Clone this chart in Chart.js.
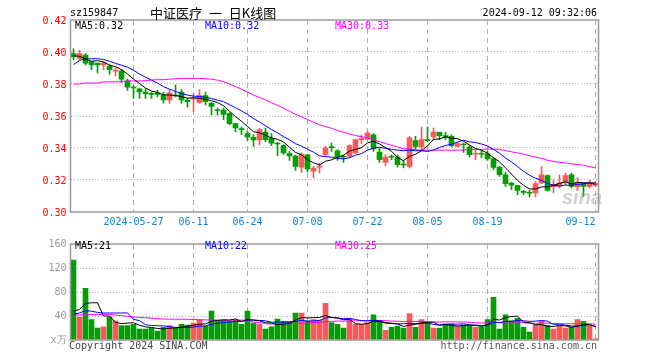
<!DOCTYPE html>
<html><head><meta charset="utf-8">
<script src="https://cdn.jsdelivr.net/npm/chart.js@4/dist/chart.umd.min.js"></script>
<style>
html,body{margin:0;padding:0;background:#fff;}
#wrap{position:relative;width:660px;height:360px;overflow:hidden;font-family:'DejaVu Sans Mono',monospace;font-size:10px;}
.t{position:absolute;white-space:pre;line-height:12px;}
#c1{position:absolute;left:0;top:0;width:660px;height:234px;}
#c2{position:absolute;left:0;top:234px;width:660px;height:126px;}
</style></head><body>
<div id="wrap">
<canvas id="c1" width="660" height="234"></canvas>
<canvas id="c2" width="660" height="126"></canvas>
<div class="t" style="left:70px;top:7px;color:#000;">sz159847</div>
<div class="t" style="left:150px;top:5px;line-height:16px;font-family:'Noto Sans CJK SC',sans-serif;font-size:13px;word-spacing:4px;color:#000;">中证医疗 一 日K线图</div>
<div class="t" style="right:63px;top:7px;color:#000;">2024-09-12 09:32:06</div>
<div class="t" style="left:75px;top:20px;color:#000;">MA5:0.32</div>
<div class="t" style="left:205px;top:20px;color:#0000ff;">MA10:0.32</div>
<div class="t" style="left:335px;top:20px;color:#ff00ff;">MA30:0.33</div>
<div class="t" style="left:75px;top:240px;color:#000;">MA5:21</div>
<div class="t" style="left:205px;top:240px;color:#0000ff;">MA10:22</div>
<div class="t" style="left:335px;top:240px;color:#ff00ff;">MA30:25</div>
<div class="t" style="left:69px;top:340px;color:#444;">Copyright 2024 SINA.COM</div>
<div class="t" style="right:63px;top:340px;color:#555;">http://finance.sina.com.cn</div>
<div class="t" style="left:562px;top:186px;font-family:'Liberation Sans',sans-serif;font-style:italic;font-weight:bold;font-size:20px;line-height:22px;color:rgba(150,150,150,0.45);">sina</div>
</div>
<script>
const dates = ['2024-05-13','2024-05-14','2024-05-15','2024-05-16','2024-05-17','2024-05-20','2024-05-21','2024-05-22','2024-05-23','2024-05-24','2024-05-27','2024-05-28','2024-05-29','2024-05-30','2024-05-31','2024-06-03','2024-06-04','2024-06-05','2024-06-06','2024-06-07','2024-06-11','2024-06-12','2024-06-13','2024-06-14','2024-06-17','2024-06-18','2024-06-19','2024-06-20','2024-06-21','2024-06-24','2024-06-25','2024-06-26','2024-06-27','2024-06-28','2024-07-01','2024-07-02','2024-07-03','2024-07-04','2024-07-05','2024-07-08','2024-07-09','2024-07-10','2024-07-11','2024-07-12','2024-07-15','2024-07-16','2024-07-17','2024-07-18','2024-07-19','2024-07-22','2024-07-23','2024-07-24','2024-07-25','2024-07-26','2024-07-29','2024-07-30','2024-07-31','2024-08-01','2024-08-02','2024-08-05','2024-08-06','2024-08-07','2024-08-08','2024-08-09','2024-08-12','2024-08-13','2024-08-14','2024-08-15','2024-08-16','2024-08-19','2024-08-20','2024-08-21','2024-08-22','2024-08-23','2024-08-26','2024-08-27','2024-08-28','2024-08-29','2024-08-30','2024-09-02','2024-09-03','2024-09-04','2024-09-05','2024-09-06','2024-09-09','2024-09-10','2024-09-11','2024-09-12'];

const openP = [0.399,0.396,0.398,0.394,0.393,0.392,0.391,0.388,0.388,0.382,
 0.378,0.377,0.375,0.374,0.3745,0.373,0.370,0.373,0.375,0.370,
 0.3705,0.3685,0.3727,0.368,0.3637,0.3637,0.3615,0.3552,0.352,0.349,
 0.3467,0.345,0.350,0.346,0.343,0.3415,0.3365,0.335,0.328,0.3358,
 0.3255,0.328,0.3358,0.3406,0.3383,0.3346,0.3348,0.337,0.3452,0.3455,
 0.3483,0.3375,0.331,0.3346,0.3344,0.3298,0.3285,0.3446,0.3406,0.345,
 0.3469,0.3498,0.3475,0.3473,0.341,0.3423,0.3406,0.3361,0.3365,0.3363,
 0.3333,0.3279,0.3233,0.3181,0.3165,0.3127,0.3121,0.3119,0.3181,0.3227,
 0.3156,0.316,0.3181,0.3233,0.3156,0.3177,0.316,0.3168];
const highP = [0.402,0.401,0.399,0.394,0.393,0.394,0.392,0.390,0.389,0.383,
 0.379,0.377,0.377,0.375,0.376,0.375,0.3765,0.3795,0.3765,0.371,
 0.374,0.3765,0.375,0.3685,0.365,0.365,0.362,0.3555,0.3533,0.3504,
 0.3483,0.3525,0.3525,0.349,0.3435,0.342,0.338,0.3355,0.337,0.336,
 0.3285,0.3306,0.341,0.3431,0.339,0.3358,0.342,0.3455,0.348,0.3504,
 0.349,0.340,0.3358,0.3358,0.3358,0.3323,0.3473,0.3473,0.3531,0.353,
 0.3525,0.350,0.3498,0.3483,0.3435,0.3431,0.3415,0.339,0.339,0.338,
 0.334,0.3285,0.3248,0.3185,0.3167,0.3135,0.3135,0.3192,0.3285,0.3233,
 0.320,0.3233,0.3244,0.3244,0.3213,0.3181,0.320,0.3192];
const lowP = [0.395,0.395,0.392,0.389,0.387,0.389,0.386,0.385,0.381,0.376,
 0.371,0.371,0.371,0.371,0.372,0.368,0.368,0.372,0.368,0.3655,
 0.3625,0.368,0.367,0.3605,0.3605,0.3577,0.3546,0.350,0.3483,0.3448,
 0.341,0.342,0.344,0.3415,0.3352,0.336,0.3323,0.326,0.3248,0.325,
 0.3213,0.3244,0.335,0.3379,0.3323,0.331,0.334,0.3365,0.3425,0.345,
 0.3379,0.331,0.329,0.3327,0.328,0.3275,0.3275,0.339,0.339,0.344,
 0.345,0.3452,0.3452,0.3406,0.3406,0.3373,0.3344,0.3327,0.3338,0.3323,
 0.3265,0.3223,0.316,0.314,0.3108,0.3108,0.3094,0.3094,0.3177,0.313,
 0.3119,0.315,0.3171,0.315,0.3138,0.3098,0.315,0.3158];
const closeP = [0.397,0.399,0.393,0.392,0.392,0.393,0.389,0.388,0.383,0.378,
 0.3775,0.375,0.374,0.3735,0.3735,0.370,0.3745,0.3725,0.370,0.369,
 0.3712,0.3727,0.369,0.366,0.3633,0.361,0.3552,0.3525,0.3515,0.347,
 0.345,0.3515,0.3452,0.343,0.3425,0.337,0.335,0.3285,0.336,0.327,
 0.3275,0.3282,0.340,0.3402,0.3344,0.3342,0.3415,0.3452,0.3458,0.3494,
 0.3394,0.3327,0.3344,0.3342,0.3296,0.3294,0.3463,0.341,0.3452,0.3446,
 0.350,0.3477,0.3471,0.3415,0.3427,0.3419,0.3358,0.3365,0.3361,0.3331,
 0.3279,0.3233,0.3177,0.3167,0.3135,0.3123,0.3117,0.3177,0.3233,0.3135,
 0.3171,0.3181,0.3227,0.316,0.3185,0.316,0.318,0.3179];
const ma5P = [0.3977,0.3973,0.3956,0.3942,0.3946,0.3938,0.3918,0.3908,0.3890,0.3862,
 0.3831,0.3803,0.3775,0.3756,0.3747,0.3732,0.3731,0.3728,0.3721,0.3712,
 0.3714,0.3711,0.3704,0.3696,0.3684,0.3664,0.3629,0.3596,0.3567,0.3534,
 0.3502,0.3495,0.3480,0.3463,0.3454,0.3438,0.3405,0.3372,0.3358,0.3327,
 0.3308,0.3294,0.3317,0.3326,0.3341,0.3354,0.3381,0.3391,0.3402,0.3432,
 0.3443,0.3425,0.3403,0.3380,0.3341,0.3321,0.3348,0.3361,0.3383,0.3413,
 0.3454,0.3457,0.3469,0.3462,0.3458,0.3442,0.3418,0.3397,0.3386,0.3367,
 0.3339,0.3314,0.3276,0.3237,0.3198,0.3167,0.3144,0.3144,0.3157,0.3157,
 0.3167,0.3179,0.3189,0.3175,0.3185,0.3183,0.3182,0.3173];
const ma10P = [0.3921,0.3948,0.3956,0.3958,0.3958,0.3954,0.3942,0.3929,0.3917,0.3905,
 0.3886,0.3862,0.3843,0.3824,0.3806,0.3783,0.3768,0.3753,0.3740,0.3731,
 0.3724,0.3722,0.3717,0.3709,0.3699,0.3690,0.3671,0.3651,0.3632,0.3610,
 0.3584,0.3563,0.3539,0.3516,0.3495,0.3471,0.3451,0.3427,0.3412,0.3392,
 0.3374,0.3351,0.3346,0.3343,0.3335,0.3332,0.3339,0.3355,0.3365,0.3387,
 0.3399,0.3404,0.3398,0.3392,0.3387,0.3383,0.3387,0.3383,0.3383,0.3378,
 0.3388,0.3403,0.3416,0.3423,0.3437,0.3449,0.3439,0.3434,0.3425,0.3413,
 0.3391,0.3367,0.3338,0.3313,0.3284,0.3254,0.3230,0.3211,0.3198,0.3179,
 0.3168,0.3163,0.3168,0.3167,0.3172,0.3176,0.3182,0.3182];
const ma30P = [0.3800,0.3800,0.3806,0.3806,0.3806,0.3813,0.3813,0.3813,0.3815,0.3819,
 0.3819,0.3819,0.3821,0.3825,0.3827,0.3827,0.3830,0.3833,0.3835,0.3835,
 0.3835,0.3835,0.3833,0.3830,0.3824,0.3814,0.3800,0.3784,0.3767,0.3749,
 0.3731,0.3716,0.3700,0.3683,0.3667,0.3648,0.3630,0.3610,0.3595,0.3578,
 0.3561,0.3545,0.3534,0.3523,0.3510,0.3498,0.3487,0.3478,0.3470,0.3463,
 0.3453,0.3439,0.3428,0.3417,0.3406,0.3395,0.3392,0.3389,0.3386,0.3386,
 0.3387,0.3386,0.3387,0.3386,0.3386,0.3388,0.3388,0.3391,0.3391,0.3393,
 0.3393,0.3391,0.3384,0.3376,0.3369,0.3362,0.3352,0.3343,0.3335,0.3323,
 0.3316,0.3311,0.3307,0.3301,0.3297,0.3293,0.3283,0.3276];

const volume = [133,38,86,34,20,22,38,32,24,24, 26,18,18,20,15,21,24,20,26,25,
 28,33,23,48,31,33,31,33,26,48, 28,26,18,22,35,31,31,45,45,32,
 34,33,61,29,26,20,36,26,26,29, 42,32,16,21,23,20,44,21,34,29,
 20,20,27,27,23,25,24,21,22,34, 71,18,42,32,36,21,13,25,32,24,
 18,24,20,21,34,31,23,2];
const ma5V = [48,51,61,62,62.1,39.9,40.0,29.2,27.3,28.2,
 28.8,24.6,21.8,21.0,19.2,18.4,19.6,20.2,21.2,23.2,
 24.5,26.3,26.9,31.3,32.5,33.6,33.2,35.2,30.7,34.1,
 33.1,32.0,28.9,28.3,25.7,26.4,27.4,32.9,37.4,36.7,
 37.2,37.6,40.9,37.8,36.6,33.8,34.4,27.2,26.5,27.2,
 31.6,30.8,28.9,28.0,26.8,22.5,24.9,25.9,28.4,29.6,
 29.5,24.7,25.8,24.4,23.2,24.2,25.1,24.0,23.1,25.3,
 34.5,33.3,37.3,39.2,39.7,29.7,28.8,25.5,25.5,23.1,
 22.4,24.5,23.5,21.3,23.2,25.9,25.7,22.1];
const ma10V = [43,45,49,48,46,45,45,45,45,45.1,
 34.4,32.3,25.5,24.2,23.7,23.6,22.1,21.0,21.1,21.2,
 21.4,23.0,23.5,26.3,27.9,29.1,29.8,31.0,31.0,33.3,
 33.3,32.6,32.1,29.5,29.9,29.7,29.7,30.9,32.8,31.2,
 31.8,32.5,36.9,37.6,36.6,35.5,36.0,34.1,32.2,31.9,
 32.7,32.6,28.1,27.3,27.0,27.1,27.8,27.4,28.2,28.2,
 26.0,24.8,25.9,26.4,26.4,26.9,24.9,24.9,23.8,24.2,
 29.3,29.2,30.7,31.2,32.5,32.1,31.0,31.4,32.4,31.4,
 26.1,26.7,24.5,23.4,23.2,24.2,25.1,22.8];
const ma30V = [41.6,41.8,42.2,42.5,42.7,42.7,42.5,41.6,40.5,39.5,
 38.4,37.7,37.0,36.3,35.5,34.9,34.7,34.7,34.7,34.5,
 34.2,33.8,33.5,33.3,33.2,33.1,33.1,33.1,33.2,33.2,
 29.7,29.3,27.0,26.6,27.2,27.5,27.2,27.6,28.3,28.6,
 28.9,29.4,30.8,31.1,31.5,31.4,31.8,32.0,32.0,32.1,
 32.6,32.6,32.3,31.5,31.2,30.8,31.2,30.8,31.1,30.4,
 30.2,30.0,30.3,30.4,30.0,29.8,29.6,28.8,28.1,28.1,
 29.4,28.9,28.2,28.3,28.6,28.7,27.9,27.9,28.1,27.9,
 27.1,26.9,27.0,27.0,27.3,27.7,27.0,26.4];

const priceTicks = [0.30,0.32,0.34,0.36,0.38,0.40,0.42];
const volTicks = [0,40,80,120,160];
const xTickDates = ['2024-05-27','2024-06-11','2024-06-24','2024-07-08','2024-07-22','2024-08-05','2024-08-19','2024-09-12'];
const xTickText = ['2024-05-27','06-11','06-24','07-08','07-22','08-05','08-19','09-12'];

const UP = '#ff5757', DOWN = '#00a000';
const MONO = "'DejaVu Sans Mono', monospace";
const gridIdx = xTickDates.map(d => dates.indexOf(d));
const candleColors = closeP.map((c, i) => c >= openP[i] ? UP : DOWN);
const bodies = openP.map((o, i) => [o, closeP[i]]);
const wicks = lowP.map((l, i) => [l, highP[i]]);

const framePlugin = {
  id: 'frame',
  afterDatasetsDraw(chart) {
    const a = chart.chartArea, ctx = chart.ctx;
    ctx.save();
    ctx.strokeStyle = '#9a9a9a';
    ctx.lineWidth = 1.5;
    ctx.strokeRect(a.left, a.top, a.right - a.left, a.bottom - a.top);
    ctx.restore();
  }
};
const xLabelPlugin = {
  id: 'xlabels',
  afterDraw(chart) {
    const xs = chart.scales.x, ctx = chart.ctx;
    ctx.save();
    ctx.font = '10px ' + MONO;
    ctx.fillStyle = '#0a84d6';
    ctx.textBaseline = 'middle';
    gridIdx.forEach((idx, k) => {
      const x = xs.getPixelForValue(idx);
      ctx.textAlign = (k === gridIdx.length - 1) ? 'right' : 'center';
      ctx.fillText(xTickText[k], x, 222);
    });
    ctx.restore();
  }
};

function lineDs(data, color) {
  return {type: 'line', data, borderColor: color, borderWidth: 1, pointRadius: 0, tension: 0, fill: false};
}
function xScale(h) {
  return {
    type: 'category', offset: true,
    grid: {offset: false, color: '#ababab', lineWidth: 1, drawTicks: false},
    border: {display: false, dash: [5, 4]},
    ticks: {display: false},
    afterBuildTicks: s => { s.ticks = gridIdx.map(v => ({value: v})); },
    afterFit: s => { s.height = h; }
  };
}

new Chart(document.getElementById('c1'), {
  type: 'bar',
  data: {
    labels: dates,
    datasets: [
      lineDs(ma5P, '#000000'),
      lineDs(ma10P, '#0000ff'),
      lineDs(ma30P, '#ff00ff'),
      {type: 'bar', data: bodies, backgroundColor: candleColors, barThickness: 5, minBarLength: 1, grouped: false, borderWidth: 0},
      {type: 'bar', data: wicks, backgroundColor: candleColors, barThickness: 1, grouped: false, borderWidth: 0}
    ]
  },
  options: {
    responsive: false, animation: false, devicePixelRatio: 1,
    layout: {padding: {top: 20, right: 61.5, left: 0, bottom: 0}},
    plugins: {legend: {display: false}, tooltip: {enabled: false}},
    scales: {
      x: xScale(22),
      y: {
        min: 0.30, max: 0.42,
        grid: {color: c => (c.tick && c.tick.value > 0.301 && c.tick.value < 0.419) ? '#b0b0b0' : 'rgba(0,0,0,0)', drawTicks: false, lineWidth: 1},
        border: {display: false, dash: [1, 2]},
        ticks: {color: '#ff0000', padding: 4, labelOffset: 1.5, font: {family: MONO, size: 10}, callback: v => Number(v).toFixed(2)},
        afterBuildTicks: s => { s.ticks = priceTicks.map(v => ({value: v})); },
        afterFit: s => { s.width = 70.5; }
      }
    }
  },
  plugins: [framePlugin, xLabelPlugin]
});

new Chart(document.getElementById('c2'), {
  type: 'bar',
  data: {
    labels: dates,
    datasets: [
      lineDs(ma5V, '#000000'),
      lineDs(ma10V, '#0000ff'),
      lineDs(ma30V, '#ff00ff'),
      {type: 'bar', data: volume, backgroundColor: candleColors, barThickness: 5, grouped: false, borderWidth: 0}
    ]
  },
  options: {
    responsive: false, animation: false, devicePixelRatio: 1,
    layout: {padding: {top: 6, right: 61.5, left: 0, bottom: 0}},
    plugins: {legend: {display: false}, tooltip: {enabled: false}},
    scales: {
      x: xScale(20),
      y: {
        min: 0, max: 160,
        grid: {color: c => (c.tick && c.tick.value > 1 && c.tick.value < 159) ? '#b0b0b0' : 'rgba(0,0,0,0)', drawTicks: false, lineWidth: 1},
        border: {display: false, dash: [1, 2]},
        ticks: {color: '#999999', padding: 4, labelOffset: 0.5, font: {family: MONO, size: 10}, callback: v => v === 0 ? 'x万' : String(v)},
        afterBuildTicks: s => { s.ticks = volTicks.map(v => ({value: v})); },
        afterFit: s => { s.width = 70.5; }
      }
    }
  },
  plugins: [framePlugin]
});
</script>
</body></html>
